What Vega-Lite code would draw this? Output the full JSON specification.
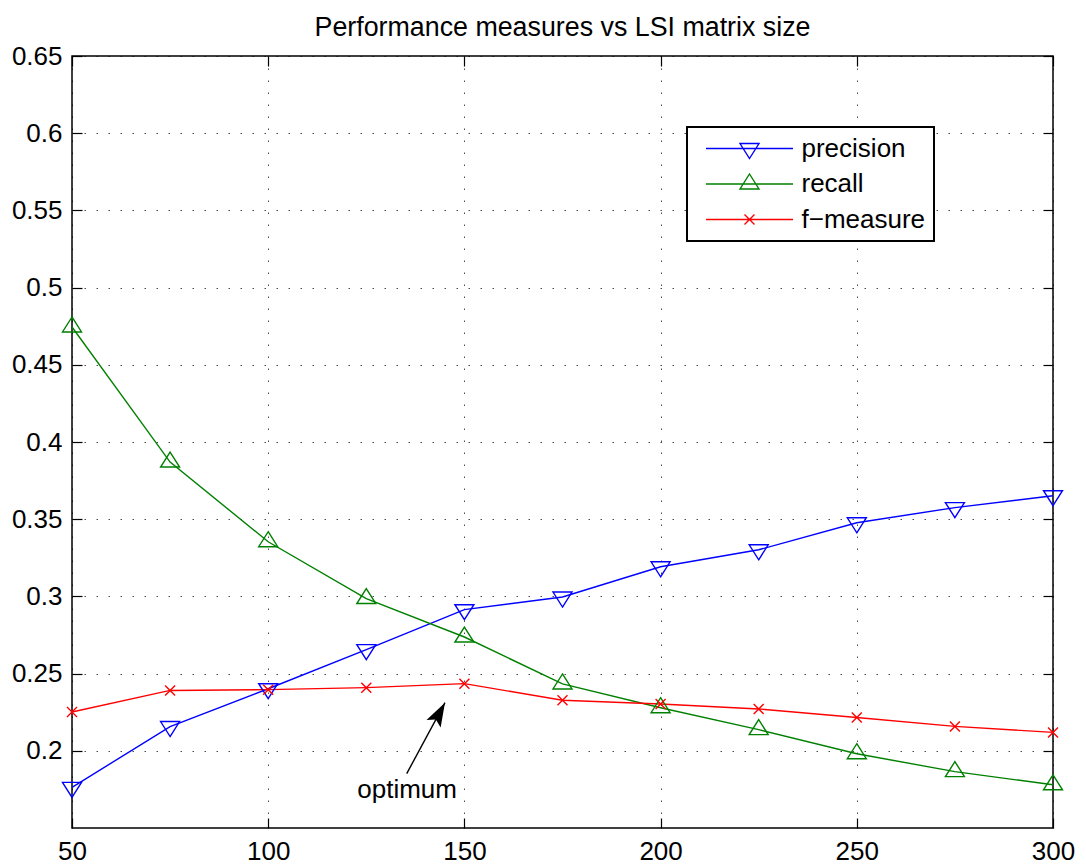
{
  "$schema": "https://vega.github.io/schema/vega-lite/v6.json",
  "width": 981,
  "height": 772,
  "autosize": {"type": "none"},
  "padding": {"left": 72, "top": 56, "right": 33, "bottom": 40},
  "title": {"text": "Performance measures vs LSI matrix size", "font": "Liberation Sans", "fontSize": 26.8, "fontWeight": "normal", "color": "black", "anchor": "middle", "offset": 1},
  "datasets": {
    "perf": [
      {"size": 50, "series": "precision", "value": 0.1763},
      {"size": 75, "series": "precision", "value": 0.2157},
      {"size": 100, "series": "precision", "value": 0.2402},
      {"size": 125, "series": "precision", "value": 0.2655},
      {"size": 150, "series": "precision", "value": 0.2914},
      {"size": 175, "series": "precision", "value": 0.2996},
      {"size": 200, "series": "precision", "value": 0.3192},
      {"size": 225, "series": "precision", "value": 0.3302},
      {"size": 250, "series": "precision", "value": 0.3477},
      {"size": 275, "series": "precision", "value": 0.3575},
      {"size": 300, "series": "precision", "value": 0.3652},
      {"size": 50, "series": "recall", "value": 0.4745},
      {"size": 75, "series": "recall", "value": 0.3870},
      {"size": 100, "series": "recall", "value": 0.3354},
      {"size": 125, "series": "recall", "value": 0.2986},
      {"size": 150, "series": "recall", "value": 0.2737},
      {"size": 175, "series": "recall", "value": 0.2433},
      {"size": 200, "series": "recall", "value": 0.2279},
      {"size": 225, "series": "recall", "value": 0.2137},
      {"size": 250, "series": "recall", "value": 0.1981},
      {"size": 275, "series": "recall", "value": 0.1865},
      {"size": 300, "series": "recall", "value": 0.1780},
      {"size": 50, "series": "f−measure", "value": 0.2251},
      {"size": 75, "series": "f−measure", "value": 0.2391},
      {"size": 100, "series": "f−measure", "value": 0.2396},
      {"size": 125, "series": "f−measure", "value": 0.2409},
      {"size": 150, "series": "f−measure", "value": 0.2435},
      {"size": 175, "series": "f−measure", "value": 0.2327},
      {"size": 200, "series": "f−measure", "value": 0.2303},
      {"size": 225, "series": "f−measure", "value": 0.2271},
      {"size": 250, "series": "f−measure", "value": 0.2216},
      {"size": 275, "series": "f−measure", "value": 0.2158},
      {"size": 300, "series": "f−measure", "value": 0.2119}
    ],
    "arrow": [{"x": 135.3, "y": 0.1852, "x2": 145.05, "y2": 0.2312}],
    "note": [{"x": 135.4, "y": 0.1748, "text": "optimum"}]
  },
  "resolve": {"axis": {"x": "independent", "y": "independent"}},
  "layer": [
    {
      "data": {"name": "perf"},
      "mark": {"type": "line", "strokeWidth": 1.4, "clip": false},
      "encoding": {
        "x": {"field": "size", "type": "quantitative", "scale": {"domain": [50, 300], "nice": false, "zero": false},
              "axis": {"orient": "bottom", "title": null, "values": [50, 100, 150, 200, 250, 300], "format": "d", "grid": true, "labelFlush": false, "labelOverlap": false}},
        "y": {"field": "value", "type": "quantitative", "scale": {"domain": [0.15, 0.65], "nice": false, "zero": false},
              "axis": {"orient": "left", "title": null, "values": [0.2, 0.25, 0.3, 0.35, 0.4, 0.45, 0.5, 0.55, 0.6, 0.65], "format": ".2~f", "grid": true, "labelFlush": false, "labelOverlap": false}},
        "color": {"field": "series", "type": "nominal",
                  "scale": {"domain": ["precision", "recall", "f−measure"], "range": ["#0000ff", "#008000", "#ff0000"]},
                  "legend": {
                    "title": null, "orient": "none", "legendX": 615, "legendY": 71,
                    "labelFont": "Liberation Sans", "labelFontSize": 26, "labelColor": "black",
                    "symbolSize": 400, "symbolOffset": 41, "labelOffset": 39, "padding": 8.5, "rowPadding": 9.5,
                    "strokeColor": "black", "fillColor": "white",
                    "encode": {
                      "symbols": {"update": {
                        "shape": {"signal": "datum.value === 'precision' ? 'M-4.35,0L4.35,0M0,1L0.95,-0.5L-0.95,-0.5Z' : datum.value === 'recall' ? 'M-4.35,0L4.35,0M0,-1L0.95,0.5L-0.95,0.5Z' : 'M-4.35,0L4.35,0M-0.5,-0.5L0.5,0.5M-0.5,0.5L0.5,-0.5'"},
                        "fill": {"value": "transparent"},
                        "strokeWidth": {"value": 1.4},
                        "opacity": {"value": 1}
                      }},
                      "legend": {"update": {"strokeWidth": {"value": 2}}}
                    }
                  }}
      }
    },
    {
      "data": {"name": "perf"},
      "transform": [{"filter": "datum.series === 'precision'"}],
      "mark": {"type": "point", "shape": "M0,1L0.95,-0.5L-0.95,-0.5Z", "filled": false, "size": 400, "strokeWidth": 1.4, "opacity": 1, "clip": false},
      "encoding": {
        "x": {"field": "size", "type": "quantitative", "axis": {"orient": "top", "title": null, "values": [50, 100, 150, 200, 250, 300], "labels": false, "grid": false}},
        "y": {"field": "value", "type": "quantitative", "axis": {"orient": "right", "title": null, "values": [0.2, 0.25, 0.3, 0.35, 0.4, 0.45, 0.5, 0.55, 0.6, 0.65], "labels": false, "grid": false}},
        "color": {"field": "series", "type": "nominal", "legend": null}
      }
    },
    {
      "data": {"name": "perf"},
      "transform": [{"filter": "datum.series === 'recall'"}],
      "mark": {"type": "point", "shape": "M0,-1L0.95,0.5L-0.95,0.5Z", "filled": false, "size": 400, "strokeWidth": 1.4, "opacity": 1, "clip": false},
      "encoding": {
        "x": {"field": "size", "type": "quantitative", "axis": null},
        "y": {"field": "value", "type": "quantitative", "axis": null},
        "color": {"field": "series", "type": "nominal", "legend": null}
      }
    },
    {
      "data": {"name": "perf"},
      "transform": [{"filter": "datum.series === 'f−measure'"}],
      "mark": {"type": "point", "shape": "M-0.5,-0.5L0.5,0.5M-0.5,0.5L0.5,-0.5", "filled": false, "size": 400, "strokeWidth": 1.4, "opacity": 1, "clip": false},
      "encoding": {
        "x": {"field": "size", "type": "quantitative", "axis": null},
        "y": {"field": "value", "type": "quantitative", "axis": null},
        "color": {"field": "series", "type": "nominal", "legend": null}
      }
    },
    {
      "data": {"name": "arrow"},
      "mark": {"type": "rule", "color": "black", "strokeWidth": 1.4},
      "encoding": {
        "x": {"field": "x", "type": "quantitative", "axis": null},
        "y": {"field": "y", "type": "quantitative", "axis": null},
        "x2": {"field": "x2"},
        "y2": {"field": "y2"}
      }
    },
    {
      "data": {"name": "arrow"},
      "mark": {"type": "point", "shape": "M0,0L0.67,2L0,1.6L-0.67,2Z", "size": 576, "filled": true, "color": "black", "opacity": 1, "angle": 28.4},
      "encoding": {
        "x": {"field": "x2", "type": "quantitative", "axis": null},
        "y": {"field": "y2", "type": "quantitative", "axis": null}
      }
    },
    {
      "data": {"name": "note"},
      "mark": {"type": "text", "font": "Liberation Sans", "fontSize": 26, "color": "black", "align": "center", "baseline": "middle"},
      "encoding": {
        "x": {"field": "x", "type": "quantitative", "axis": null},
        "y": {"field": "y", "type": "quantitative", "axis": null},
        "text": {"field": "text"}
      }
    }
  ],
  "config": {
    "font": "Liberation Sans",
    "view": {"stroke": "black", "strokeWidth": 1.5},
    "axis": {
      "labelFont": "Liberation Sans", "labelFontSize": 26, "labelColor": "black",
      "tickColor": "black", "tickSize": -10, "tickWidth": 1.2, "labelPadding": 20,
      "domain": false,
      "gridColor": "black", "gridDash": [1.5, 10.5], "gridOpacity": 0.7, "gridWidth": 1
    }
  }
}
